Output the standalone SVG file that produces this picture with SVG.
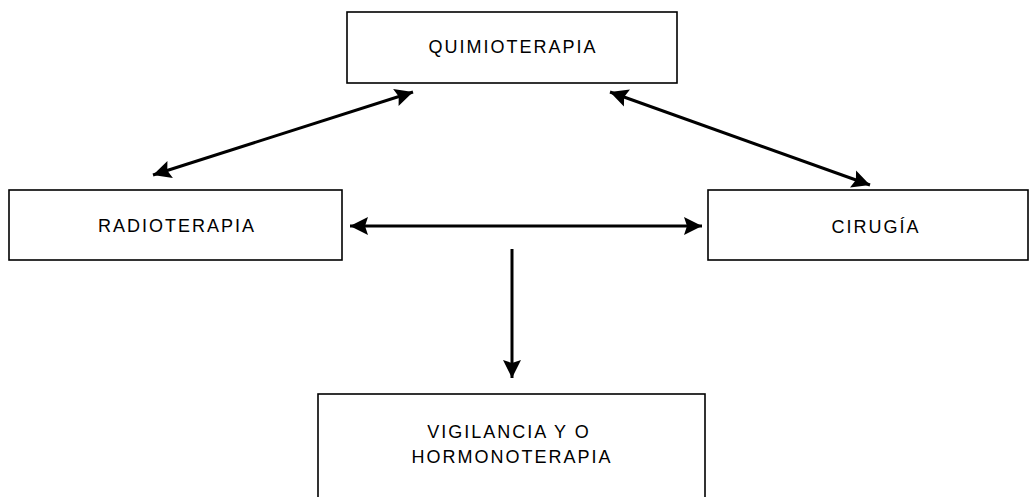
<svg xmlns="http://www.w3.org/2000/svg" width="1029" height="497" viewBox="0 0 1029 497">
<style>
.box{fill:#fff;stroke:#000;stroke-width:1.6}
.lbl{font-family:"Liberation Sans",Arial,sans-serif;font-size:18px;letter-spacing:2px;fill:#000;text-anchor:middle}
.con{stroke:#000;stroke-width:3;fill:none}
</style>
<defs>
<marker id="ah" markerUnits="userSpaceOnUse" markerWidth="20" markerHeight="20" refX="18" refY="9" orient="auto-start-reverse" viewBox="0 0 20 18">
<path d="M0,0 L18,9 L0,18 L3,9 z" fill="#000"/>
</marker>
</defs>
<rect width="1029" height="497" fill="#fff"/>
<g id="connectors">
<line class="con" x1="153" y1="175" x2="413" y2="92" marker-start="url(#ah)" marker-end="url(#ah)"/>
<line class="con" x1="610" y1="92" x2="870" y2="185" marker-start="url(#ah)" marker-end="url(#ah)"/>
<line class="con" x1="350" y1="226" x2="702" y2="226" marker-start="url(#ah)" marker-end="url(#ah)"/>
<line class="con" x1="512" y1="249" x2="512" y2="378" marker-end="url(#ah)"/>
</g>
<g id="quimioterapia">
<rect class="box" x="347" y="12" width="330" height="71"/>
<text class="lbl" x="513" y="53">QUIMIOTERAPIA</text>
</g>
<g id="radioterapia">
<rect class="box" x="9" y="190" width="333" height="70"/>
<text class="lbl" x="177" y="232">RADIOTERAPIA</text>
</g>
<g id="cirugia">
<rect class="box" x="708" y="190" width="320" height="70"/>
<text class="lbl" x="876" y="233">CIRUGÍA</text>
</g>
<g id="vigilancia">
<rect class="box" x="318" y="394" width="387" height="110"/>
<text class="lbl" x="509" y="438">VIGILANCIA Y O</text>
<text class="lbl" x="512" y="463">HORMONOTERAPIA</text>
</g>
</svg>
